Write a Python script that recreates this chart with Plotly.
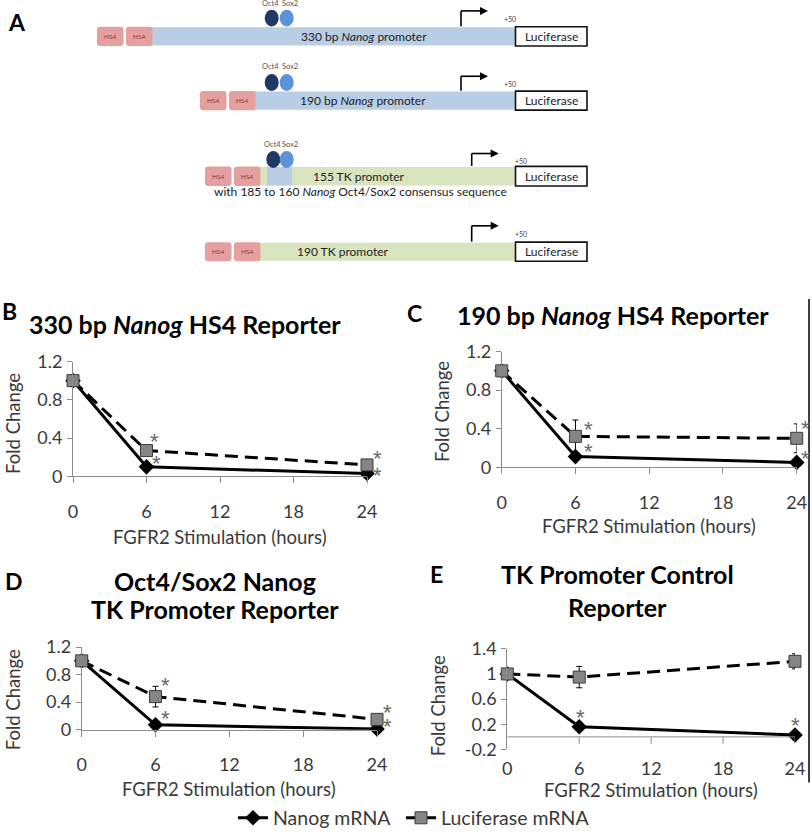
import plotly.graph_objects as go

W, H = 812, 838
FONT = "Lato"
AX = "#8c8c8c"
TXT = "#3a3a3a"

# ---------------- data ----------------
times = [0, 6, 24]
x_ticks = [0, 6, 12, 18, 24]

B_nanog = [1.0, 0.10, 0.03]
B_luc = [1.0, 0.27, 0.12]
B_luc_err = [0.0, 0.02, 0.02]

C_nanog = [1.0, 0.11, 0.05]
C_luc = [1.0, 0.32, 0.30]
C_luc_err = [0.0, 0.17, 0.15]

D_nanog = [1.0, 0.07, 0.01]
D_luc = [1.0, 0.48, 0.15]
D_luc_err = [0.0, 0.15, 0.03]

E_nanog = [1.0, 0.16, 0.03]
E_luc = [1.0, 0.95, 1.20]
E_luc_err = [0.0, 0.17, 0.12]

y_ticks_BCD = [0, 0.4, 0.8, 1.2]
y_text_BCD = ["0", "0.4", "0.8", "1.2"]
y_ticks_E = [-0.2, 0.2, 0.6, 1.0, 1.4]
y_text_E = ["-0.2", "0.2", "0.6", "1", "1.4"]

# significance stars: (time, series)
B_stars = [(6, "luc"), (6, "nanog"), (24, "luc"), (24, "nanog")]
C_stars = [(6, "luc"), (6, "nanog"), (24, "luc"), (24, "nanog")]
D_stars = [(6, "luc"), (6, "nanog"), (24, "luc"), (24, "nanog")]
E_stars = [(6, "nanog"), (24, "nanog")]

series_names = ["Nanog mRNA", "Luciferase mRNA"]
x_title = "FGFR2 Stimulation (hours)"
y_title = "Fold Change"


def X(px):
    return px / W


def Y(py):
    return 1 - py / H


# star placement style: (dx px, rise px above the point)
B_star_style = {(6, "luc"): (8, 15), (6, "nanog"): (10, 9), (24, "luc"): (10, 12), (24, "nanog"): (10, 4)}
C_star_style = {(6, "luc"): (13, 13), (6, "nanog"): (13, 11), (24, "luc"): (9, 16), (24, "nanog"): (9, 10)}
D_star_style = {(6, "luc"): (10, 17), (6, "nanog"): (10, 12), (24, "luc"): (10, 13), (24, "nanog"): (10, 8)}
E_star_style = {(6, "nanog"): (1, 15), (24, "nanog"): (0, 15)}

panels = [
    dict(s="", letter="B", nanog=B_nanog, luc=B_luc, err=B_luc_err, stars=B_stars, sst=B_star_style,
         dom=(73, 367, 365, 481), yr=[0, 1.2], yt=y_ticks_BCD, ytt=y_text_BCD,
         title=["330 bp <i>Nanog</i> HS4 Reporter"], title_xy=(185, [327]), letter_xy=(9, 314),
         xt_y=542, yt_xy=(13, 428)),
    dict(s="2", letter="C", nanog=C_nanog, luc=C_luc, err=C_luc_err, stars=C_stars, sst=C_star_style,
         dom=(501.7, 796.7, 355, 471.7), yr=[0, 1.2], yt=y_ticks_BCD, ytt=y_text_BCD,
         title=["190 bp <i>Nanog</i> HS4 Reporter"], title_xy=(613, [318]), letter_xy=(414, 316),
         xt_y=531, yt_xy=(442, 415)),
    dict(s="3", letter="D", nanog=D_nanog, luc=D_luc, err=D_luc_err, stars=D_stars, sst=D_star_style,
         dom=(81.7, 377, 653.3, 736.7), yr=[0, 1.2], yt=y_ticks_BCD, ytt=y_text_BCD,
         title=["Oct4/Sox2 Nanog", "TK Promoter Reporter"], title_xy=(215, [587, 615]), letter_xy=(14, 587),
         xt_y=797, yt_xy=(13, 707)),
    dict(s="4", letter="E", nanog=E_nanog, luc=E_luc, err=E_luc_err, stars=E_stars, sst=E_star_style,
         dom=(507.3, 795, 655, 756.7), yr=[-0.2, 1.4], yt=y_ticks_E, ytt=y_text_E,
         title=["TK Promoter Control", "Reporter"], title_xy=(617, [580, 613]), letter_xy=(436, 580),
         xt_y=798, yt_xy=(438, 712)),
]

STAR_SIZE = 22
STAR_GLYPH_RISE = 6

fig = go.Figure()
annotations = []
shapes = []

for i, p in enumerate(panels):
    s = p["s"]
    xa, ya = "x" + s, "y" + s
    fig.add_trace(go.Scatter(
        x=times, y=p["nanog"], mode="lines+markers", name=series_names[0],
        line=dict(color="black", width=3),
        marker=dict(symbol="diamond", size=12, color="black"),
        xaxis=xa, yaxis=ya, cliponaxis=False, showlegend=(i == 0), legend="legend"))
    fig.add_trace(go.Scatter(
        x=times, y=p["luc"], mode="lines+markers", name=series_names[1],
        line=dict(color="black", width=3, dash="13px,7px"),
        marker=dict(symbol="square", size=12, color="#858585", line=dict(color="#3c3c3c", width=1)),
        error_y=dict(type="data", array=p["err"], color="black", thickness=1, width=3),
        xaxis=xa, yaxis=ya, cliponaxis=False, showlegend=(i == 0), legend="legend2"))

    x0, x1, y0, y1 = p["dom"]
    is_E = p["letter"] == "E"
    fig.layout["xaxis" + s] = dict(
        domain=[X(x0), X(x1)], range=[0, 24], anchor=ya, tickvals=x_ticks, automargin=False,
        ticks="" if is_E else "outside", ticklen=6, tickcolor=AX, tickwidth=1,
        showline=not is_E, linecolor=AX, linewidth=1, showgrid=False, zeroline=False,
        tickfont=dict(family=FONT, size=18, color=TXT),
        ticklabelstandoff=7 if is_E else 13)
    fig.layout["yaxis" + s] = dict(
        domain=[Y(y1), Y(y0)], range=p["yr"], anchor=xa, tickvals=p["yt"], ticktext=p["ytt"],
        automargin=False,
        ticks="outside", ticklen=5, tickcolor=AX, tickwidth=1,
        showline=True, linecolor=AX, linewidth=1, showgrid=False, zeroline=False,
        tickfont=dict(family=FONT, size=18, color=TXT), ticklabelstandoff=1)

    if is_E:
        shapes.append(dict(type="line", xref=xa, yref=ya, x0=0, x1=24, y0=0, y1=0,
                           line=dict(color=AX, width=1)))
        for t in x_ticks[1:]:
            shapes.append(dict(type="line", xref=xa, yref=ya, x0=t, x1=t,
                               ysizemode="pixel", yanchor=0, y0=0, y1=-7,
                               line=dict(color=AX, width=1)))

    # stars
    for (t, ser) in p["stars"]:
        idx = times.index(t)
        val = p["luc"][idx] if ser == "luc" else p["nanog"][idx]
        dx, rise = p["sst"][(t, ser)]
        annotations.append(dict(x=t, y=val, xref=xa, yref=ya, text="*", showarrow=False,
                                xshift=dx, yshift=rise - STAR_GLYPH_RISE,
                                font=dict(family="Liberation Sans", size=STAR_SIZE, color="#666666")))

    # titles
    tx, tys = p["title_xy"]
    for line, ty in zip(p["title"], tys):
        annotations.append(dict(x=X(tx), y=Y(ty), xref="paper", yref="paper", text="<b>" + line + "</b>",
                                showarrow=False, xanchor="center", yanchor="middle",
                                font=dict(family=FONT, size=25, color="black")))
    lx, ly = p["letter_xy"]
    annotations.append(dict(x=X(lx), y=Y(ly), xref="paper", yref="paper", text="<b>" + p["letter"] + "</b>",
                            showarrow=False, xanchor="center", yanchor="middle",
                            font=dict(family=FONT, size=23, color="black")))
    # axis titles
    annotations.append(dict(x=X((x0 + x1) / 2), y=Y(p["xt_y"]), xref="paper", yref="paper", text=x_title,
                            showarrow=False, xanchor="center", yanchor="middle",
                            font=dict(family=FONT, size=18.5, color=TXT)))
    yx, yy = p["yt_xy"]
    annotations.append(dict(x=X(yx), y=Y(yy), xref="paper", yref="paper", text=y_title, textangle=-90,
                            showarrow=False, xanchor="center", yanchor="middle",
                            font=dict(family=FONT, size=18.5, color=TXT)))

# ---------------- panel A diagram ----------------
PINK = "#e59f9f"
BLUE = "#b9cde5"
GREEN = "#d7e4bd"
OCT = "#1f3864"
SOX = "#5a93d8"


def rrect(x0, y0, x1, y1, r, color):
    pts = (f"M {X(x0 + r)},{Y(y0)} L {X(x1 - r)},{Y(y0)} Q {X(x1)},{Y(y0)} {X(x1)},{Y(y0 + r)} "
           f"L {X(x1)},{Y(y1 - r)} Q {X(x1)},{Y(y1)} {X(x1 - r)},{Y(y1)} "
           f"L {X(x0 + r)},{Y(y1)} Q {X(x0)},{Y(y1)} {X(x0)},{Y(y1 - r)} "
           f"L {X(x0)},{Y(y0 + r)} Q {X(x0)},{Y(y0)} {X(x0 + r)},{Y(y0)} Z")
    return dict(type="path", xref="paper", yref="paper", path=pts, fillcolor=color,
                line=dict(width=0), layer="above")


def rect(x0, y0, x1, y1, color, border=None):
    return dict(type="rect", xref="paper", yref="paper", x0=X(x0), x1=X(x1), y0=Y(y1), y1=Y(y0),
                fillcolor=color, line=dict(color=border or color, width=1.6 if border else 0),
                layer="above")


def txt(x, y, t, size, color="#222", anchor="center", bold=False):
    return dict(x=X(x), y=Y(y), xref="paper", yref="paper", text=("<b>" + t + "</b>") if bold else t,
                showarrow=False, xanchor=anchor, yanchor="middle",
                font=dict(family=FONT, size=size, color=color))


def construct(hs_x, y0, y1, bar_x0, bar_color, label, label_x, circ=None, arrow_x=None, extra=None):
    shapes.append(rect(bar_x0, y0, 515, y1, bar_color))
    if extra:
        shapes.append(rect(extra[0], y0, extra[1], y1, BLUE))
    for hx in hs_x:
        shapes.append(rrect(hx, y0 - 0.5, hx + 26.5, y1 + 0.5, 3, PINK))
        annotations.append(txt(hx + 13.2, (y0 + y1) / 2, "HS4", 6.5, "#8b3a3a"))
    shapes.append(rect(515.5, y0 - 0.5, 587, y1 + 0.5, "white", "#111"))
    annotations.append(txt(551, (y0 + y1) / 2, "Luciferase", 12, "#222"))
    annotations.append(txt(label_x, (y0 + y1) / 2, label, 12, "#222"))
    if circ:
        cx1, cx2, cy, ly = circ
        for cx, col in ((cx1, OCT), (cx2, SOX)):
            shapes.append(dict(type="circle", xref="paper", yref="paper", x0=X(cx - 7), x1=X(cx + 7),
                               y0=Y(cy + 8.5), y1=Y(cy - 8.5), fillcolor=col, line=dict(width=0),
                               layer="above"))
        annotations.append(txt(cx1 - 1, ly, "Oct4", 7.5, "#555"))
        annotations.append(txt(cx2 + 3, ly, "Sox2", 7.5, "#555"))
    ax_, ay_top = arrow_x
    shapes.append(dict(type="line", xref="paper", yref="paper", x0=X(ax_), x1=X(ax_),
                       y0=Y(y0 - 1), y1=Y(ay_top), line=dict(color="black", width=1.6)))
    shapes.append(dict(type="line", xref="paper", yref="paper", x0=X(ax_), x1=X(ax_ + 19),
                       y0=Y(ay_top), y1=Y(ay_top), line=dict(color="black", width=1.6)))
    annotations.append(dict(x=X(ax_ + 27), y=Y(ay_top), xref="paper", yref="paper", text="",
                            showarrow=True, ax=-10, ay=0, arrowhead=2, arrowsize=1, arrowwidth=1.6,
                            arrowcolor="black"))
    annotations.append(txt(ax_ + 49, ay_top + 8, "+50", 7, "#444"))


annotations.append(txt(17, 22, "A", 23, "black", bold=True))
construct([97, 126], 27.5, 46, 150, BLUE, "330 bp <i>Nanog</i> promoter", 364,
          circ=(271.7, 286.7, 18.3, 3.5), arrow_x=(461, 11))
construct([200, 229], 92.5, 110.7, 253, BLUE, "190 bp <i>Nanog</i> promoter", 363,
          circ=(271.7, 286.7, 83.3, 67), arrow_x=(461, 77))
construct([205, 234], 168.5, 187.3, 258, GREEN, "155 TK promoter", 359,
          circ=(273.3, 286.7, 161, 146), arrow_x=(471.7, 155), extra=(267, 292))
annotations.append(txt(360, 193.5, "with 185 to 160 <i>Nanog</i> Oct4/Sox2 consensus sequence", 12, "#222"))
construct([205, 234], 245, 263.3, 258, GREEN, "190 TK promoter", 343, arrow_x=(471.7, 228))

# right frame line
shapes.append(dict(type="line", xref="paper", yref="paper", x0=X(809), x1=X(809), y0=Y(302), y1=Y(790),
                   line=dict(color="black", width=1.5)))

leg_common = dict(orientation="h", yanchor="middle", xanchor="left",
                  font=dict(family=FONT, size=19.5, color=TXT), bgcolor="rgba(0,0,0,0)")

fig.update_layout(
    template="none",
    width=W, height=H, margin=dict(l=0, r=0, t=0, b=0, pad=0), autosize=False,
    paper_bgcolor="white", plot_bgcolor="white",
    showlegend=True,
    legend=dict(x=X(233), y=Y(826), **leg_common),
    legend2=dict(x=X(401), y=Y(826), **leg_common),
    annotations=annotations, shapes=shapes,
)

fig.write_html("out.html", config={"displayModeBar": False},
               post_script="document.body.style.margin='0';document.body.style.overflow='hidden';")
